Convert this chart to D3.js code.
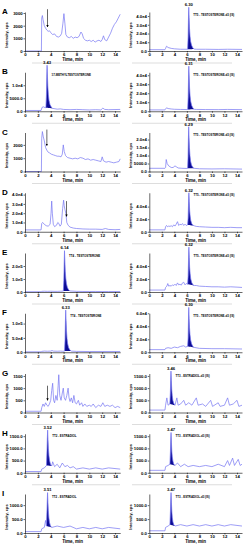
<!DOCTYPE html>
<html>
<head>
<meta charset="utf-8">
<script src="https://cdn.jsdelivr.net/npm/d3@7"></script>
<style>
body { margin: 0; background: #fff; }
text { font-family: "Liberation Sans", Arial, sans-serif; font-weight: bold; }
</style>
</head>
<body>
<svg width="247" height="550"></svg>
<script>
// ---- data: [time (min), intensity (cps)] ----
const rowLetters = ['A','B','C','D','E','F','G','H','I']
const timeTicks = [0,2,4,6,8,10,12,14]

const traceA1 = [[0,0],[2.55,0],[2.6,2600],[2.7,2800],[2.8,2500],[3.0,2000],[3.2,1800],[3.4,1650],[3.6,1550],[3.8,1600],[4.0,1450],[4.3,1300],[4.6,1350],[4.9,1150],[5.2,1100],[5.5,1200],[5.7,1400],[5.9,2200],[6.05,2950],[6.2,2200],[6.35,1300],[6.6,1100],[6.9,1050],[7.2,1150],[7.5,1000],[7.8,1100],[8.1,1050],[8.4,1150],[8.7,1500],[8.9,1350],[9.1,1000],[9.4,850],[9.7,800],[10.0,850],[10.3,750],[10.6,850],[10.9,700],[11.2,800],[11.5,850],[11.8,750],[12.0,900],[12.2,1200],[12.4,900],[12.7,800],[13.0,1100],[13.3,1400],[13.6,1800],[13.9,2100],[14.2,2300],[14.5,2600],[14.8,2900]]
const traceA2 = [[0,1500],[2.5,1500],[2.6,3000],[2.75,5500],[3.0,4000],[3.5,3000],[4.0,2500],[5.0,2000],[6.0,2000],[6.12,2000],[6.2,16000],[6.25,36000],[6.3,50000],[6.36,38000],[6.42,26000],[6.5,17000],[6.6,11000],[6.75,6500],[6.95,3500],[7.15,2200],[7.5,2000],[9,2000],[11,1800],[12.5,2000],[14.8,1800]]
const traceB1 = [[0,300],[2.5,300],[2.65,1500],[2.9,1700],[3.1,1400],[3.25,1400],[3.33,6000],[3.38,13000],[3.43,17700],[3.49,13500],[3.55,9500],[3.63,6500],[3.73,4200],[3.88,2600],[4.08,1600],[4.3,1100],[5,800],[5.5,900],[6,700],[7,600],[8,700],[9,600],[10,500],[11,600],[11.8,500],[12.1,1200],[12.4,700],[13,600],[14.8,700]]
const traceB2 = [[0,1500],[2.5,1500],[2.6,2500],[2.75,3800],[3.0,3000],[3.5,2500],[4.0,2200],[5.0,2000],[6.0,1900],[6.13,2000],[6.21,16000],[6.26,36000],[6.31,50000],[6.37,38000],[6.43,26000],[6.51,17000],[6.61,11000],[6.76,6500],[6.96,3500],[7.16,2200],[7.5,2000],[9,1900],[11,1800],[12.5,2000],[14.8,1800]]
const traceC1 = [[0,0],[2.55,0],[2.6,2500],[2.7,3000],[2.85,2600],[3.0,2300],[3.2,1800],[3.4,1600],[3.6,1450],[3.8,1400],[4.1,1300],[4.4,1250],[4.7,1200],[5.0,1150],[5.3,1150],[5.6,1100],[5.8,1300],[5.95,2000],[6.1,1500],[6.3,1200],[6.6,1050],[7.0,1000],[7.4,950],[7.8,1000],[8.2,950],[8.6,1050],[9.0,1000],[9.4,900],[9.8,950],[10.2,850],[10.6,900],[11.0,850],[11.4,800],[11.8,750],[12.0,1100],[12.2,800],[12.6,700],[13.0,750],[13.4,700],[13.8,650],[14.2,700],[14.6,750],[14.8,950]]
const traceC2 = [[0,2000],[2.5,2000],[2.6,2500],[2.7,7500],[2.85,5000],[3.1,3500],[3.5,2500],[3.8,2500],[4.1,3500],[4.3,3000],[4.6,2200],[5.2,2000],[6.0,1900],[6.12,2000],[6.19,9000],[6.24,20000],[6.29,28000],[6.35,21000],[6.41,15000],[6.49,10000],[6.59,6500],[6.74,4000],[6.94,2600],[7.14,2000],[8,1700],[10,1600],[12,1700],[14.8,1500]]
const traceD1 = [[0,2000],[2.5,2000],[2.6,9000],[2.75,10000],[3.0,8000],[3.3,6500],[3.6,6000],[3.9,8000],[4.05,20000],[4.15,33000],[4.25,20000],[4.4,8000],[4.6,5500],[4.9,7000],[5.1,10000],[5.25,9000],[5.45,6000],[5.65,8000],[5.85,25000],[6.0,34000],[6.1,28000],[6.2,24000],[6.35,20000],[6.5,10000],[6.7,7000],[7.0,5000],[7.5,4000],[8,3500],[9,3000],[10,2800],[11,2800],[12,2500],[12.5,3500],[13,2500],[14,2200],[14.8,2500]]
const traceD2 = [[0,3000],[2.5,3000],[2.6,8000],[2.75,10000],[2.9,8000],[3.1,9000],[3.3,8500],[3.5,9500],[3.7,8000],[3.9,11000],[4.1,9000],[4.3,12000],[4.5,16000],[4.7,10000],[4.9,12000],[5.1,11000],[5.3,13000],[5.5,10000],[5.7,12000],[5.9,10000],[6.12,11000],[6.2,22000],[6.26,44000],[6.32,62000],[6.38,48000],[6.44,34000],[6.52,25000],[6.62,18000],[6.77,13000],[6.97,10500],[7.17,9500],[7.5,8500],[8,8000],[9,7500],[10,7000],[11,7000],[12,6500],[13,7000],[14,6500],[14.8,6500]]
const traceE1 = [[0,2000],[2.5,2000],[2.6,5000],[3.0,6000],[3.5,5000],[4.0,6000],[4.5,5000],[5,5000],[5.5,6000],[5.96,7000],[6.04,90000],[6.09,220000],[6.14,318000],[6.2,240000],[6.26,160000],[6.34,105000],[6.44,65000],[6.59,35000],[6.79,16000],[6.99,8000],[8,5000],[9,4000],[10,4000],[11,4000],[12,3500],[13,3500],[14.8,3500]]
const traceE2 = [[0,3000],[2.5,3000],[2.6,7000],[2.8,9000],[2.95,13000],[3.1,9000],[3.3,10000],[3.5,9000],[3.7,11000],[3.9,10000],[4.1,12000],[4.3,10000],[4.5,14000],[4.7,11000],[4.9,12000],[5.1,10500],[5.3,14000],[5.5,15000],[5.7,11000],[5.9,13000],[6.12,12000],[6.2,24000],[6.26,48000],[6.32,69000],[6.38,53000],[6.44,38000],[6.52,28000],[6.62,20000],[6.77,14500],[6.97,11000],[7.17,10000],[7.5,10000],[8,9000],[9,8500],[10,8000],[11,8000],[12,7500],[13,8000],[14,7500],[14.8,7000]]
const traceF1 = [[0,1500],[2.5,1500],[2.6,3000],[3.0,4000],[3.5,3500],[4.0,4000],[4.2,6000],[4.4,4000],[5,3500],[5.5,4000],[5.9,3500],[6.15,4000],[6.23,45000],[6.28,105000],[6.33,147000],[6.39,110000],[6.45,75000],[6.53,48000],[6.63,30000],[6.78,16000],[6.98,7500],[7.18,4000],[8,3000],[10,2500],[12,2500],[14.8,2500]]
const traceF2 = [[0,4000],[2.5,4000],[2.6,6000],[3,7000],[3.5,6000],[4,8000],[4.5,7000],[5,9000],[5.5,10000],[5.8,8000],[6.12,9000],[6.2,22000],[6.25,48000],[6.3,69000],[6.36,52000],[6.42,38000],[6.5,27000],[6.6,19000],[6.75,13000],[6.95,9000],[7.15,7500],[8,6000],[10,5500],[12,5500],[14.8,5000]]
const traceG1 = [[0,50],[2.5,50],[2.6,200],[2.8,350],[3.0,250],[3.2,400],[3.4,300],[3.6,250],[3.8,350],[4.0,500],[4.15,900],[4.3,1200],[4.45,500],[4.6,400],[4.8,700],[5.0,500],[5.15,1100],[5.25,1550],[5.4,700],[5.6,500],[5.8,800],[5.95,1000],[6.1,600],[6.3,500],[6.5,700],[6.7,1000],[6.85,600],[7.0,450],[7.2,600],[7.4,400],[7.6,700],[7.8,400],[8.0,350],[8.3,500],[8.5,300],[8.8,400],[9.0,250],[9.3,350],[9.6,250],[10,300],[10.3,250],[10.6,350],[11,200],[11.4,300],[11.8,250],[12.1,400],[12.4,250],[12.8,300],[13.2,250],[13.6,300],[14,200],[14.4,250],[14.8,200]]
const traceG2 = [[0,100],[2.5,100],[2.6,300],[2.8,600],[3.0,300],[3.28,350],[3.36,800],[3.41,1300],[3.46,1700],[3.52,1300],[3.58,950],[3.66,700],[3.76,500],[3.9,380],[4.1,300],[4.4,600],[4.6,300],[5.0,350],[5.5,500],[5.8,300],[6.3,400],[6.8,300],[7.5,600],[7.8,300],[8.5,350],[9.0,250],[9.8,500],[10.1,250],[11,400],[11.3,250],[12,300],[12.5,600],[12.8,300],[13.4,350],[14,500],[14.3,250],[14.8,300]]
const traceH1 = [[0,50],[2.5,50],[2.6,150],[3.0,200],[3.34,300],[3.42,900],[3.47,1400],[3.52,1750],[3.58,1350],[3.64,1000],[3.72,700],[3.82,500],[3.96,350],[4.16,280],[4.3,450],[4.6,250],[5.0,350],[5.4,200],[5.8,400],[6.2,250],[6.6,300],[7.0,200],[7.5,250],[8,150],[9,200],[10,150],[11,200],[12,150],[13,200],[14.8,150]]
const traceH2 = [[0,100],[2.5,100],[2.6,250],[3.0,300],[3.29,350],[3.37,850],[3.42,1300],[3.47,1650],[3.53,1250],[3.59,900],[3.67,650],[3.77,480],[3.91,350],[4.11,300],[4.5,400],[5.0,250],[5.6,350],[6.2,250],[7.0,300],[8.0,250],[9,300],[10,250],[11,350],[12,250],[12.5,500],[12.8,300],[13.3,600],[13.6,300],[14.2,550],[14.5,300],[14.8,350]]
const traceI1 = [[0,50],[2.5,50],[2.6,150],[3.0,200],[3.2,450],[3.33,250],[3.41,750],[3.46,1150],[3.51,1450],[3.57,1100],[3.63,800],[3.71,550],[3.81,380],[3.95,260],[4.15,200],[5,250],[6,200],[7,250],[8,150],[9,200],[10,150],[11,200],[12,150],[13,200],[14.8,150]]
const traceI2 = [[0,80],[2.5,80],[2.6,200],[3.0,250],[3.29,300],[3.37,750],[3.42,1150],[3.47,1450],[3.53,1100],[3.59,800],[3.67,560],[3.77,400],[3.91,300],[4.11,250],[5,300],[6,250],[7,300],[8,250],[9,300],[10,250],[11,300],[12,250],[13,300],[14.8,250]]

// y tick values / labels and axis maximum per panel
const ticksA1 = [0,1000,2000,3000],        labelsA1 = ['0','1000','2000','3000'],                 maxA1 = 3080
const ticksA2 = [0,1e4,2e4,3e4,4e4],       labelsA2 = ['0.0','1.0e4','2.0e4','3.0e4','4.0e4'],   maxA2 = 44600
const ticksB1 = [0,5000,1e4],              labelsB1 = ['0.0','5000.0','1.0e4'],                  maxB1 = 15000
const ticksB2 = [0,1e4,2e4,3e4,4e4],       labelsB2 = ['0.0','1.0e4','2.0e4','3.0e4','4.0e4'],   maxB2 = 43300
const ticksC1 = [0,1000,2000],             labelsC1 = ['0','1000','2000'],                       maxC1 = 2930
const ticksC2 = [0,5000,1e4,1.5e4,2e4],    labelsC2 = ['0.0','5000.0','1.0e4','1.5e4','2.0e4'],  maxC2 = 24400
const ticksD1 = [0,1e4,2e4,3e4,4e4],       labelsD1 = ['0.0','1.0e4','2.0e4','3.0e4','4.0e4'],   maxD1 = 42000
const ticksD2 = [0,2e4,4e4],               labelsD2 = ['0.0','2.0e4','4.0e4'],                   maxD2 = 62000
const ticksE1 = [0,1e5,2e5],               labelsE1 = ['0.0','1.0e5','2.0e5'],                   maxE1 = 300000
const ticksE2 = [0,2e4,4e4],               labelsE2 = ['0.0','2.0e4','4.0e4'],                   maxE2 = 60000
const ticksF1 = [0,5e4,1e5],               labelsF1 = ['0.0','5.0e4','1.0e5'],                   maxF1 = 136000
const ticksF2 = [0,2e4,4e4,6e4],           labelsF2 = ['0.0','2.0e4','4.0e4','6.0e4'],           maxF2 = 60000
const ticksG1 = [0,500,1000,1500],         labelsG1 = ['0','500','1000','1500'],                 maxG1 = 1600
const ticksG2 = [0,500,1000,1500],         labelsG2 = ['0.0','500.0','1000.0','1500.0'],         maxG2 = 1600
const ticksH1 = [0,500,1000,1500],         labelsH1 = ['0.0','500.0','1000.0','1500.0'],         maxH1 = 1600
const ticksH2 = [0,500,1000,1500],         labelsH2 = ['0.0','500.0','1000.0','1500.0'],         maxH2 = 1600
const ticksI1 = [0,500,1000],              labelsI1 = ['0.0','500.0','1000.0'],                  maxI1 = 1400
const ticksI2 = [0,500,1000],              labelsI2 = ['0.0','500.0','1000.0'],                  maxI2 = 1400

// integrated peaks: [start, end, apex time, label]
const peakA2 = [6.12, 7.15, 6.30, 'TT5 - TESTOSTERONE-d3 (IS)']
const peakB1 = [3.25, 4.3, 3.43, '17-METHYLTESTOSTERONE']
const peakB2 = [6.13, 7.16, 6.31, 'TT5 - TESTOSTERONE-d3 (IS)']
const peakC2 = [6.12, 7.14, 6.29, 'TT5 - TESTOSTERONE-d3 (IS)']
const peakD2 = [6.12, 7.17, 6.32, 'TT5 - TESTOSTERONE-d3 (IS)']
const peakE1 = [5.96, 6.99, 6.14, 'TT4 - TESTOSTERONE']
const peakE2 = [6.12, 7.17, 6.32, 'TT5 - TESTOSTERONE-d3 (IS)']
const peakF1 = [6.15, 7.18, 6.33, 'TT4 - TESTOSTERONE']
const peakF2 = [6.12, 7.15, 6.30, 'TT5 - TESTOSTERONE-d3 (IS)']
const peakG2 = [3.28, 4.1, 3.46, 'TT3 - ESTRADIOL-d3 (IS)']
const peakH1 = [3.34, 4.16, 3.52, 'TT2 - ESTRADIOL']
const peakH2 = [3.29, 4.11, 3.47, 'TT3 - ESTRADIOL-d3 (IS)']
const peakI1 = [3.33, 4.15, 3.51, 'TT2 - ESTRADIOL']
const peakI2 = [3.29, 4.11, 3.47, 'TT3 - ESTRADIOL-d3 (IS)']

// arrows: [time, from intensity, to intensity]
const arrowA1 = [3.5, 3300, 1900]
const arrowC1 = [3.4, 3150, 1950]
const arrowD1 = [6.45, 33000, 16500]
const arrowG1 = [3.5, 1100, 500]

const panels = [
	{row:0, side:0, trace:traceA1, ticks:ticksA1, labels:labelsA1, max:maxA1, arrow:arrowA1},
	{row:0, side:1, trace:traceA2, ticks:ticksA2, labels:labelsA2, max:maxA2, peak:peakA2},
	{row:1, side:0, trace:traceB1, ticks:ticksB1, labels:labelsB1, max:maxB1, peak:peakB1},
	{row:1, side:1, trace:traceB2, ticks:ticksB2, labels:labelsB2, max:maxB2, peak:peakB2},
	{row:2, side:0, trace:traceC1, ticks:ticksC1, labels:labelsC1, max:maxC1, arrow:arrowC1},
	{row:2, side:1, trace:traceC2, ticks:ticksC2, labels:labelsC2, max:maxC2, peak:peakC2},
	{row:3, side:0, trace:traceD1, ticks:ticksD1, labels:labelsD1, max:maxD1, arrow:arrowD1},
	{row:3, side:1, trace:traceD2, ticks:ticksD2, labels:labelsD2, max:maxD2, peak:peakD2},
	{row:4, side:0, trace:traceE1, ticks:ticksE1, labels:labelsE1, max:maxE1, peak:peakE1},
	{row:4, side:1, trace:traceE2, ticks:ticksE2, labels:labelsE2, max:maxE2, peak:peakE2},
	{row:5, side:0, trace:traceF1, ticks:ticksF1, labels:labelsF1, max:maxF1, peak:peakF1},
	{row:5, side:1, trace:traceF2, ticks:ticksF2, labels:labelsF2, max:maxF2, peak:peakF2},
	{row:6, side:0, trace:traceG1, ticks:ticksG1, labels:labelsG1, max:maxG1, arrow:arrowG1},
	{row:6, side:1, trace:traceG2, ticks:ticksG2, labels:labelsG2, max:maxG2, peak:peakG2},
	{row:7, side:0, trace:traceH1, ticks:ticksH1, labels:labelsH1, max:maxH1, peak:peakH1},
	{row:7, side:1, trace:traceH2, ticks:ticksH2, labels:labelsH2, max:maxH2, peak:peakH2},
	{row:8, side:0, trace:traceI1, ticks:ticksI1, labels:labelsI1, max:maxI1, peak:peakI1},
	{row:8, side:1, trace:traceI2, ticks:ticksI2, labels:labelsI2, max:maxI2, peak:peakI2},
]

// ---- layout ----
const svg = d3.select('svg')
const rowBase = 	i => 51 + i * 60.25
const plotH = 		39
const xRanges = 	[[25, 120.2], [149.3, 242]]
const lineColor = 	'#7474f2'
const fillColor = 	'#0c0c94'

svg.append('defs').append('marker')
	.attr('id', 'head').attr('viewBox', '0 0 6 6')
	.attr('refX', 5).attr('refY', 3)
	.attr('markerWidth', 4).attr('markerHeight', 4)
	.attr('orient', 'auto')
	.append('path').attr('d', 'M0,0L6,3L0,6Z').attr('fill', '#000')

rowLetters.forEach((l, i) => {
	svg.append('text')
		.attr('x', 2).attr('y', rowBase(i) - 37)
		.style('font-size', '8px')
		.text(l)
	if (i < rowLetters.length - 1) {
		svg.append('line')
			.attr('x1', 32).attr('x2', 120).attr('y1', rowBase(i) + 12).attr('y2', rowBase(i) + 12)
			.attr('stroke', '#d4d4d4').attr('stroke-width', 0.8)
		svg.append('line')
			.attr('x1', 132).attr('x2', 232).attr('y1', rowBase(i) + 12).attr('y2', rowBase(i) + 12)
			.attr('stroke', '#d4d4d4').attr('stroke-width', 0.8)
	}
})

function drawPanel(p) {
	const yb = rowBase(p.row)
	const x = d3.scaleLinear().domain([0, 14.8]).range(xRanges[p.side])
	const y = d3.scaleLinear().domain([0, p.max]).range([yb, yb - plotH])
	const g = svg.append('g')

	// integrated peak, filled down to the line joining its start and end
	if (p.peak) {
		const [t0, t1, tApex, name] = p.peak
		const pts = p.trace.filter(d => d[0] >= t0 && d[0] <= t1)
		const v0 = pts[0][1], v1 = pts[pts.length - 1][1]
		const base = t => v0 + (v1 - v0) * (t - pts[0][0]) / (pts[pts.length - 1][0] - pts[0][0])
		g.append('path').datum(pts)
			.attr('d', d3.area().x(d => x(d[0])).y0(d => y(base(d[0]))).y1(d => y(d[1])))
			.attr('fill', fillColor)
		const apex = pts.find(d => d[0] === tApex) || d3.greatest(pts, d => d[1])
		g.append('text')
			.attr('x', x(apex[0])).attr('y', y(apex[1]) - 1.2)
			.attr('text-anchor', 'middle')
			.style('font-size', '4.2px')
			.text(tApex.toFixed(2))
		g.append('text')
			.attr('x', x(apex[0]) + 4.5).attr('y', yb - 35.5)
			.style('font-size', '2.9px')
			.text(name)
	}

	g.append('path').datum(p.trace)
		.attr('d', d3.line().x(d => x(d[0])).y(d => y(d[1])))
		.attr('fill', 'none')
		.attr('stroke', lineColor).attr('stroke-width', 0.7)

	if (p.arrow) {
		const [t, a, b] = p.arrow
		g.append('line')
			.attr('x1', x(t)).attr('x2', x(t))
			.attr('y1', y(a)).attr('y2', y(b))
			.attr('stroke', '#000').attr('stroke-width', 0.6)
			.attr('marker-end', 'url(#head)')
	}

	const xa = g.append('g').attr('transform', `translate(0,${yb})`)
		.call(d3.axisBottom(x).tickValues(timeTicks).tickSize(1.5).tickSizeOuter(0).tickPadding(0.8))
	const ya = g.append('g').attr('transform', `translate(${xRanges[p.side][0]},0)`)
		.call(d3.axisLeft(y).tickValues(p.ticks).tickFormat((d, i) => p.labels[i]).tickSize(1.5).tickSizeOuter(0).tickPadding(0.8))
	for (let a of [xa, ya]) {
		a.selectAll('text').style('font-size', '4.3px').attr('fill', '#000')
		a.selectAll('path,line').attr('stroke', '#000').attr('stroke-width', 0.6)
	}

	const cx = (xRanges[p.side][0] + xRanges[p.side][1]) / 2
	g.append('text')
		.attr('x', cx).attr('y', yb + 10)
		.attr('text-anchor', 'middle')
		.style('font-size', '4.5px')
		.text('Time, min')
	g.append('text')
		.attr('transform', `translate(${xRanges[p.side][0] - 17},${yb - 16}) rotate(-90)`)
		.attr('text-anchor', 'middle')
		.style('font-size', '4px')
		.text('Intensity, cps')
}

panels.forEach(drawPanel)
</script>
</body>
</html>
